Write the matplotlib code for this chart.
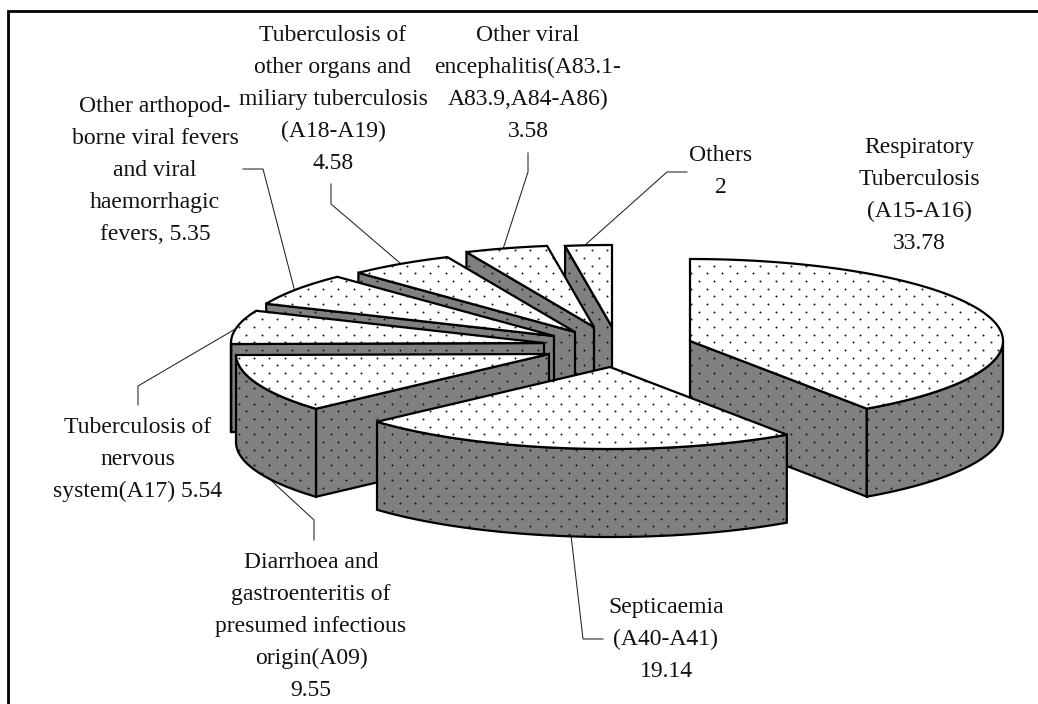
import matplotlib
matplotlib.use("Agg")
import matplotlib.pyplot as plt
from matplotlib.patches import Polygon
import numpy as np

# share of deaths, clockwise from 12 o'clock
values = [33.78, 19.14, 9.55, 5.54, 5.35, 4.58, 3.58, 2]
labels = [
    ["Respiratory", "Tuberculosis", "(A15-A16)", "33.78"],
    ["Septicaemia", "(A40-A41)", "19.14"],
    ["Diarrhoea and", "gastroenteritis of", "presumed infectious", "origin(A09)", "9.55"],
    ["Tuberculosis of", "nervous", "system(A17) 5.54"],
    ["Other arthopod-", "borne viral fevers", "and viral", "haemorrhagic", "fevers, 5.35"],
    ["Tuberculosis of", "other organs and", "miliary tuberculosis", "(A18-A19)", "4.58"],
    ["Other viral", "encephalitis(A83.1-", "A83.9,A84-A86)", "3.58"],
    ["Others", "2"],
]

# layout, in pixels of the picture
apex_xy = [(690, 341), (610, 367), (549, 354), (544, 343),
           (554, 336), (575, 332), (594, 327), (612, 327)]
label_xy = [(919, 153), (666, 613), (311, 568), (138, 433),
            (155, 112), (333, 41), (528, 41), (721, 161)]
leaders = [
    [(603, 639), (583, 639), (571, 535)],
    [(314, 540), (314, 520), (263, 473)],
    [(138, 405), (138, 386), (237, 328)],
    [(243, 169), (263, 169), (295, 292)],
    [(331, 184), (331, 204), (400, 263)],
    [(528, 153), (528, 172), (503, 249)],
    [(687, 172), (667, 172), (584, 246)],
]
RX, RY, DEPTH = 313, 82, 88
LINE_STEP = 32
SIDE = "#808080"
DOT_DX, DOT_DY = 15.35, 7.67
DOT_X0, DOT_Y0 = 699, 265.7

plt.rcParams["font.family"] = ["Liberation Serif"]

fig = plt.figure(figsize=(10.38, 7.04), dpi=100)
ax = fig.add_axes([0, 0, 1, 1])
ax.set_xlim(0, 1038)
ax.set_ylim(704, 0)
ax.axis("off")

# dot pattern shared by all faces
rows = []
for i, y in enumerate(np.arange(DOT_Y0 - 40 * DOT_DY, 704, DOT_DY)):
    shift = DOT_DX / 2 if (i % 2) else 0
    xs = np.arange(DOT_X0 - 50 * DOT_DX + shift, 1038, DOT_DX)
    rows.append(np.column_stack([xs, np.full_like(xs, y)]))
dots = np.vstack(rows)

zo = [2]


def face(points, color):
    poly = Polygon(points, closed=True, facecolor=color, edgecolor="none",
                   zorder=zo[0])
    ax.add_patch(poly)
    sc = ax.scatter(dots[:, 0], dots[:, 1], s=2.0, c="#111111", linewidths=0,
                    zorder=zo[0] + 0.1)
    sc.set_clip_path(poly)
    outline = Polygon(points, closed=True, fill=False, edgecolor="black",
                      linewidth=1.6, joinstyle="miter", zorder=zo[0] + 0.2)
    ax.add_patch(outline)
    zo[0] += 1


def rim(cx, cy, t):
    t = np.radians(t)
    return np.column_stack([cx + RX * np.sin(t), cy - RY * np.cos(t)])


edges = np.concatenate([[0], np.cumsum(values)]) / sum(values) * 360

for k in [0, 7, 6, 5, 4, 3, 2, 1]:
    cx, cy = apex_xy[k]
    t0, t1 = edges[k], edges[k + 1]
    down = np.array([0, DEPTH])

    # only the faces that look towards the viewer
    if np.sin(np.radians(t0)) < -0.01:
        p = rim(cx, cy, [t0])[0]
        face([(cx, cy), p, p + down, (cx, cy + DEPTH)], SIDE)
    if np.sin(np.radians(t1)) > 0.01:
        p = rim(cx, cy, [t1])[0]
        face([(cx, cy), p, p + down, (cx, cy + DEPTH)], SIDE)
    a, b = max(t0, 90), min(t1, 270)
    if b > a:
        arc = rim(cx, cy, np.linspace(a, b, 80))
        face(np.vstack([arc, (arc + down)[::-1]]), SIDE)

    arc = rim(cx, cy, np.linspace(t0, t1, 120))
    face(np.vstack([[(cx, cy)], arc]), "white")

for pts in leaders:
    xs, ys = zip(*pts)
    ax.plot(xs, ys, color="#222222", lw=0.75, zorder=1)

for lines, (x, y) in zip(labels, label_xy):
    for j, line in enumerate(lines):
        ax.text(x, y + j * LINE_STEP, line, ha="center", va="baseline",
                fontsize=17, color="#111111", zorder=1)

# picture is cropped: only the top and left of the frame remain
ax.plot([8, 8, 1038], [704, 11, 11], color="black", lw=2.0, zorder=50,
        solid_joinstyle="miter", clip_on=False)

fig.savefig("out.png", dpi=100, facecolor="white")
